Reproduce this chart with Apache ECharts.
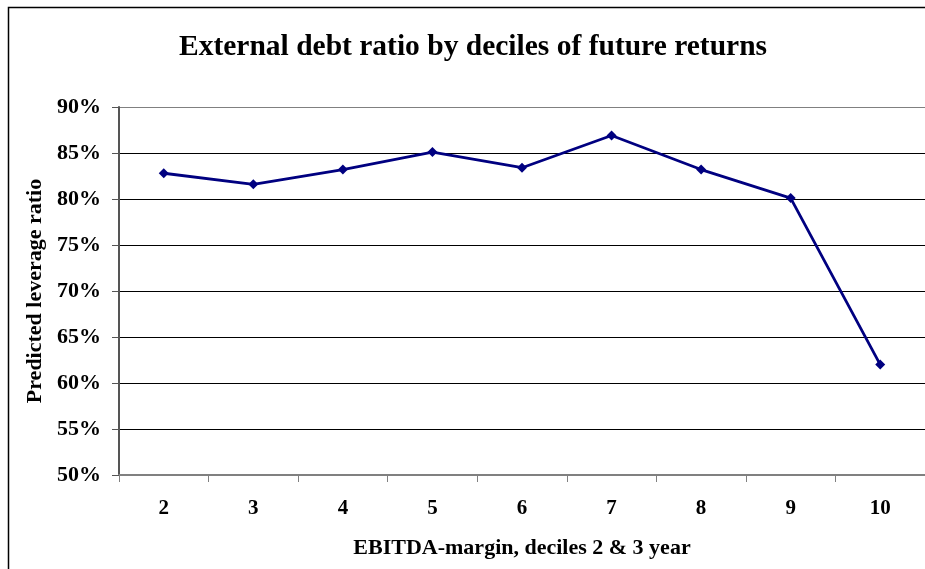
<!DOCTYPE html>
<html>
<head>
<meta charset="utf-8">
<script src="https://cdn.jsdelivr.net/npm/echarts@6/dist/echarts.min.js"></script>
<style>
  html, body { margin: 0; padding: 0; background: #fff; }
  #chart { width: 925px; height: 569px; }
</style>
</head>
<body>
<div id="chart"></div>
<script>
// EBITDA-margin deciles and the predicted leverage ratio for each one
const deciles = ['2', '3', '4', '5', '6', '7', '8', '9', '10'];
const leverage = [0.828, 0.816, 0.832, 0.851, 0.834, 0.869, 0.832, 0.801, 0.620];
const yTicks = { min: 0.5, max: 0.9, step: 0.05 };

const serif = '"Liberation Serif", "Times New Roman", serif';

// gridlines are black; the top one doubles as the grey plot-area border
const gridColors = ['#808080', '#000', '#000', '#000', '#000', '#000', '#000', '#000', '#808080'];

const chart = echarts.init(document.getElementById('chart'));
chart.setOption({
  animation: false,
  backgroundColor: '#ffffff',
  title: {
    text: 'External debt ratio by deciles of future returns',
    left: 468,
    textAlign: 'center',
    top: 27,
    textStyle: { fontFamily: serif, fontWeight: 'bold', fontSize: 29.5, color: '#000' }
  },
  graphic: [{
    type: 'rect',
    shape: { x: 8.5, y: 7.5, width: 1000, height: 700 },
    style: { fill: 'none', stroke: '#000', lineWidth: 1.5 },
    silent: true
  }],
  grid: { left: 119, top: 107, width: 811, height: 368, containLabel: false },
  xAxis: {
    type: 'category',
    data: deciles,
    boundaryGap: true,
    name: 'EBITDA-margin, deciles 2 & 3 year',
    nameLocation: 'middle',
    nameGap: 62,
    nameTextStyle: { fontFamily: serif, fontWeight: 'bold', fontSize: 22, color: '#000' },
    axisLine: { lineStyle: { color: '#808080', width: 2 } },
    axisTick: { show: true, length: 7, alignWithLabel: false, lineStyle: { color: '#808080', width: 1 } },
    axisLabel: { fontFamily: serif, fontWeight: 'bold', fontSize: 21, color: '#000', margin: 23 },
    splitLine: { show: false }
  },
  yAxis: {
    type: 'value',
    min: yTicks.min,
    max: yTicks.max,
    interval: yTicks.step,
    name: 'Predicted leverage ratio',
    nameLocation: 'middle',
    nameGap: 69,
    nameTextStyle: { fontFamily: serif, fontWeight: 'bold', fontSize: 22, color: '#000' },
    axisLine: { show: true, lineStyle: { color: '#555', width: 2 } },
    axisTick: { show: true, length: 7, lineStyle: { color: '#555', width: 1 } },
    axisLabel: {
      fontFamily: serif, fontWeight: 'bold', fontSize: 22, color: '#000', margin: 18,
      formatter: v => Math.round(v * 100) + '%'
    },
    splitLine: { show: true, lineStyle: { color: gridColors, width: 1 } }
  },
  series: [{
    type: 'line',
    data: leverage,
    symbol: 'diamond',
    symbolSize: 10,
    itemStyle: { color: '#000080' },
    lineStyle: { color: '#000080', width: 2.8 }
  }]
});
</script>
</body>
</html>
